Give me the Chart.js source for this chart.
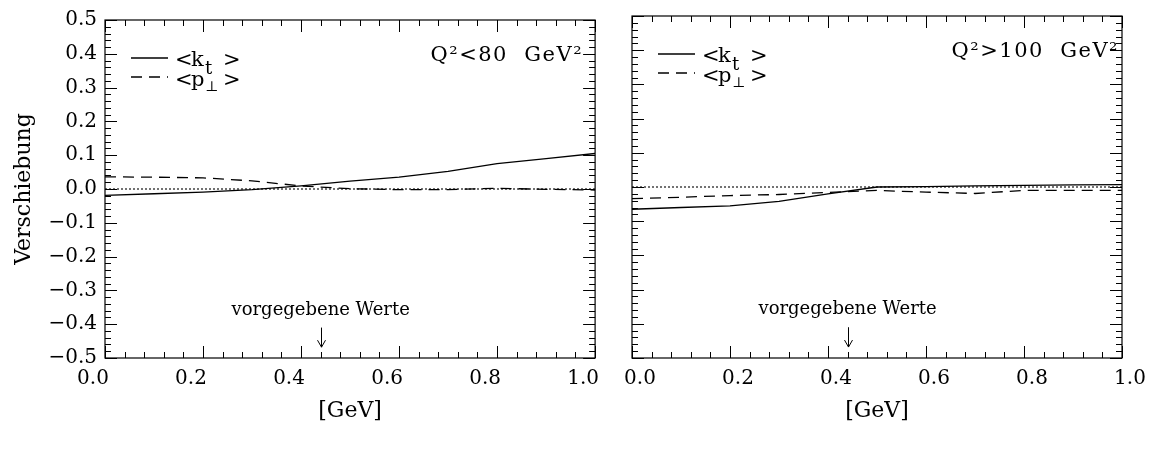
<!DOCTYPE html>
<html>
<head>
<meta charset="utf-8">
<script src="https://cdn.jsdelivr.net/npm/chart.js@4.4.1/dist/chart.umd.min.js"></script>
<style>
  html, body { margin: 0; padding: 0; background: #fff; }
  #wrap { position: relative; width: 1154px; height: 449px; overflow: hidden; }
  canvas { position: absolute; top: 0; }
</style>
</head>
<body>
<div id="wrap">
  <canvas id="c1" width="620" height="449" style="left:0px"></canvas>
  <canvas id="c2" width="554" height="449" style="left:600px"></canvas>
</div>
<script>
// x positions of the computed points [GeV]
const kGrid = [0, 0.1, 0.2, 0.3, 0.4, 0.5, 0.6, 0.7, 0.8, 0.9, 1.0];

// Q^2 < 80 GeV^2
const ktLow  = [-0.019, -0.014, -0.009, -0.002, 0.009, 0.023, 0.035, 0.052, 0.075, 0.090, 0.105];
const ptLow  = [0.036, 0.035, 0.033, 0.024, 0.009, 0.001, -0.002, -0.002, 0.002, -0.001, -0.003];

// Q^2 > 100 GeV^2
const ktHigh = [-0.065, -0.060, -0.055, -0.042, -0.020, 0.000, 0.001, 0.003, 0.005, 0.006, 0.007];
const ptHigh = [-0.034, -0.030, -0.025, -0.022, -0.016, -0.010, -0.015, -0.019, -0.010, -0.010, -0.010];

// dotted zero reference line
const zeroX = [0, 1];
const zeroY = [0, 0];

// "vorgegebene Werte" arrow positions (left, right panel)
const markerX = [0.44, 0.44];

const xTickValues = [0, 0.2, 0.4, 0.6, 0.8, 1.0];
const xTickLabels = ['0.0', '0.2', '0.4', '0.6', '0.8', '1.0'];
const yTickValues = [-0.5, -0.4, -0.3, -0.2, -0.1, 0, 0.1, 0.2, 0.3, 0.4, 0.5];
const yTickLabels = ['\u22120.5', '\u22120.4', '\u22120.3', '\u22120.2', '\u22120.1', '0.0',
                     '0.1', '0.2', '0.3', '0.4', '0.5'];

const FONT = 'DejaVu Serif';
Chart.defaults.font.family = FONT;
Chart.defaults.color = '#000';
Chart.defaults.animation = false;

function pts(xs, ys) {
  return xs.map((x, i) => ({ x: x, y: ys[i] }));
}

// frame, inward ticks, legend and annotations
const decor = {
  id: 'decor',
  afterDraw(chart, args, o) {
    const { ctx, chartArea: a, scales: { x, y } } = chart;
    ctx.save();
    ctx.strokeStyle = '#000';
    ctx.lineWidth = 1.2;
    ctx.strokeRect(a.left, a.top, a.right - a.left, a.bottom - a.top);

    ctx.lineWidth = 1;
    ctx.beginPath();
    for (let i = 0; i <= 25; i++) {
      const px = Math.round(x.getPixelForValue(i * 0.04)) + 0.5;
      const len = i % 5 === 0 ? 12 : 6;
      ctx.moveTo(px, a.bottom); ctx.lineTo(px, a.bottom - len);
      ctx.moveTo(px, a.top); ctx.lineTo(px, a.top + len);
    }
    for (let i = 0; i <= 50; i++) {
      const py = Math.round(y.getPixelForValue(-0.5 + i * 0.02)) + 0.5;
      const len = i % 5 === 0 ? 12 : 6;
      ctx.moveTo(a.left, py); ctx.lineTo(a.left + len, py);
      ctx.moveTo(a.right, py); ctx.lineTo(a.right - len, py);
    }
    ctx.stroke();

    // legend
    const lx = a.left, ty = a.top;
    ctx.lineWidth = 1.3;
    ctx.beginPath(); ctx.moveTo(lx + 26, ty + 38); ctx.lineTo(lx + 63, ty + 38); ctx.stroke();
    ctx.setLineDash([11, 7]);
    ctx.beginPath(); ctx.moveTo(lx + 26, ty + 57); ctx.lineTo(lx + 63, ty + 57); ctx.stroke();
    ctx.setLineDash([]);

    ctx.fillStyle = '#000';
    ctx.textBaseline = 'alphabetic';
    ctx.textAlign = 'left';
    ctx.font = '21px "' + FONT + '"';
    ctx.fillText('<', lx + 70, ty + 46);
    ctx.fillText('k', lx + 86, ty + 46);
    ctx.fillText('>', lx + 118, ty + 46);
    ctx.fillText('<', lx + 70, ty + 66);
    ctx.fillText('p', lx + 86, ty + 66);
    ctx.fillText('>', lx + 118, ty + 66);
    ctx.font = '18px "' + FONT + '"';
    ctx.fillText('t', lx + 100, ty + 54);
    ctx.font = '14px "' + FONT + '"';
    ctx.fillText('\u22a5', lx + 100, ty + 71);

    // Q^2 label
    ctx.font = '21px "' + FONT + '"';
    ctx.textAlign = 'right';
    if ('letterSpacing' in ctx) ctx.letterSpacing = '1.5px';
    ctx.fillText(o.qLabel, a.right - o.qPad, ty + 41);
    if ('letterSpacing' in ctx) ctx.letterSpacing = '0px';

    // vorgegebene Werte
    const mx = x.getPixelForValue(o.marker);
    ctx.textAlign = 'center';
    ctx.font = '18px "' + FONT + '"';
    ctx.fillText('vorgegebene Werte', mx, y.getPixelForValue(-0.372));
    const ay1 = y.getPixelForValue(-0.41), ay2 = y.getPixelForValue(-0.468);
    const ax = Math.round(mx) + 0.5;
    ctx.lineWidth = 1;
    ctx.beginPath();
    ctx.moveTo(ax, ay1); ctx.lineTo(ax, ay2);
    ctx.moveTo(ax - 4, ay2 - 7); ctx.lineTo(ax, ay2); ctx.lineTo(ax + 4, ay2 - 7);
    ctx.stroke();
    ctx.restore();
  }
};

function makeChart(id, kt, pt, cfg) {
  return new Chart(document.getElementById(id), {
    type: 'line',
    data: {
      datasets: [
        { data: pts(zeroX, zeroY), borderColor: '#000', borderWidth: 1.1, borderDash: [2, 2] },
        { data: pts(kGrid, kt), borderColor: '#000', borderWidth: 1.3 },
        { data: pts(kGrid, pt), borderColor: '#000', borderWidth: 1.3, borderDash: [11, 7] }
      ]
    },
    options: {
      responsive: false,
      parsing: false,
      layout: { padding: 0 },
      elements: { point: { radius: 0 }, line: { tension: 0, fill: false } },
      plugins: {
        legend: { display: false },
        tooltip: { enabled: false },
        decor: { qLabel: cfg.qLabel, qPad: cfg.qPad, marker: cfg.marker }
      },
      scales: {
        x: {
          type: 'linear', position: 'bottom', min: 0, max: 1,
          afterBuildTicks: s => { s.ticks = xTickValues.map(v => ({ value: v })); },
          afterFit: s => { s.height = 91; },
          grid: { display: false, drawTicks: false },
          border: { display: false },
          ticks: {
            font: { size: 20 }, padding: 9, labelOffset: cfg.labelOffset,
            maxRotation: 0, autoSkip: false,
            callback: (v, i) => xTickLabels[i]
          },
          title: { display: true, text: '[GeV]', font: { size: 22 }, padding: { top: 0, bottom: 25 } }
        },
        x2: {
          type: 'linear', position: 'top', min: 0, max: 1,
          afterFit: s => { s.height = 16; },
          grid: { display: false, drawTicks: false }, border: { display: false },
          ticks: { display: false }
        },
        y: {
          type: 'linear', position: 'left', min: -0.5, max: 0.5,
          afterBuildTicks: s => { s.ticks = yTickValues.map(v => ({ value: v })); },
          afterFit: s => { s.width = cfg.yWidth; },
          grid: { display: false, drawTicks: false },
          border: { display: false },
          ticks: {
            display: cfg.showY, font: { size: 20 }, padding: 8, autoSkip: false,
            callback: (v, i) => yTickLabels[i]
          },
          title: { display: cfg.showY, text: 'Verschiebung', font: { size: 22 }, padding: { top: 11, bottom: 0 } }
        },
        y2: {
          type: 'linear', position: 'right', min: -0.5, max: 0.5,
          afterFit: s => { s.width = cfg.y2Width; },
          grid: { display: false, drawTicks: false }, border: { display: false },
          ticks: { display: false }
        }
      }
    },
    plugins: [decor]
  });
}

makeChart('c1', ktLow, ptLow, {
  showY: true, yWidth: 105, y2Width: 22, labelOffset: -12,
  qLabel: 'Q\u00b2<80  GeV\u00b2', qPad: 12, marker: markerX[0]
});
makeChart('c2', ktHigh, ptHigh, {
  showY: false, yWidth: 32, y2Width: 32, labelOffset: 8,
  qLabel: 'Q\u00b2>100  GeV\u00b2', qPad: 3, marker: markerX[1]
});
</script>
</body>
</html>
